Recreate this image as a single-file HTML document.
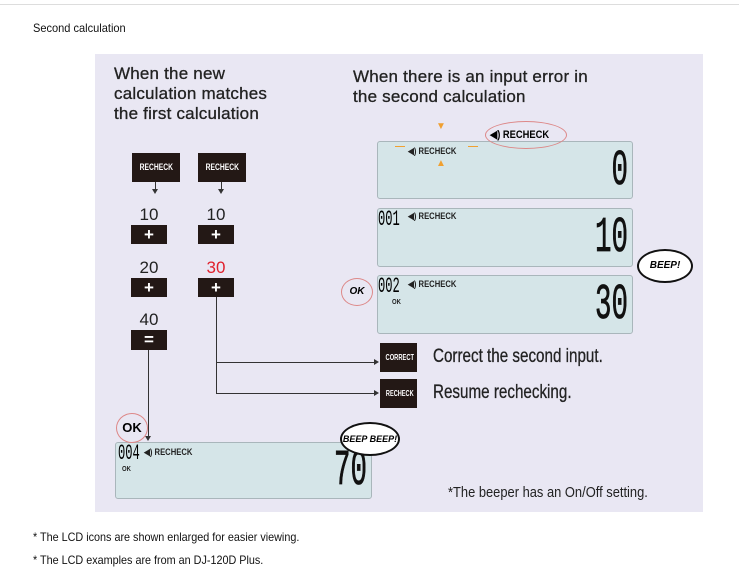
<!DOCTYPE html>
<html><head><meta charset="utf-8"><style>
body{margin:0;width:739px;height:584px;background:#fff;font-family:"Liberation Sans",sans-serif;position:relative;overflow:hidden}
.a{position:absolute}
.panel{left:95px;top:54px;width:608px;height:458px;background:#e9e7f3}
.h{font-size:17px;color:#222;line-height:20px;letter-spacing:0.2px;-webkit-text-stroke:0.3px #222}
.key{background:#231815;color:#fff;text-align:center;font-weight:bold;overflow:hidden;white-space:nowrap}
.rk{font-size:9px;line-height:29px;text-decoration:underline}
.rk span,.key span{display:inline-block;transform:scaleX(.75)}
.num{font-size:17px;color:#222;text-align:center;width:36px}
.lcd{background:#d5e5e8;border:1px solid #a9b6bb;border-radius:3px}
.dig{font-family:"Liberation Mono",monospace;font-size:50px;color:#111;transform:scaleX(.55);transform-origin:right top;line-height:50px;-webkit-text-stroke:0.8px #111}
.sm{font-size:9px;font-weight:bold;color:#222;transform:scaleX(.85);transform-origin:left top;white-space:nowrap}
.ln{background:#333}
.arr{width:0;height:0;border-top:3px solid transparent;border-bottom:3px solid transparent;border-left:5px solid #333}
.arrd{width:0;height:0;border-left:3px solid transparent;border-right:3px solid transparent;border-top:5px solid #333}
.txt{font-size:19px;color:#222;transform:scaleX(.8);transform-origin:left top;white-space:nowrap;-webkit-text-stroke:0.3px #222}
.sp{color:#f0a030;font-size:10px;font-weight:bold}
</style></head><body>
<div class="a" style="left:0;top:4px;width:739px;height:1px;background:#ddd"></div>
<div class="a" style="left:33px;top:21px;font-size:12px;color:#111;transform:scaleX(.92);transform-origin:left top">Second calculation</div>
<div class="a panel"></div>
<div class="a h" style="left:114px;top:64px">When the new<br>calculation matches<br>the first calculation</div>
<div class="a h" style="left:353px;top:67px">When there is an input error in<br>the second calculation</div>

<div class="a key rk" style="left:132px;top:153px;width:48px;height:29px"><span>RECHECK</span></div>
<div class="a key rk" style="left:198px;top:153px;width:48px;height:29px"><span>RECHECK</span></div>
<div class="a ln" style="left:155px;top:182px;width:1px;height:8px"></div>
<div class="a arrd" style="left:152px;top:189px"></div>
<div class="a ln" style="left:221px;top:182px;width:1px;height:8px"></div>
<div class="a arrd" style="left:218px;top:189px"></div>
<div class="a num" style="left:131px;top:205px">10</div>
<div class="a num" style="left:198px;top:205px">10</div>
<div class="a key" style="left:131px;top:225px;width:36px;height:19px;font-size:17px;line-height:19px">+</div>
<div class="a key" style="left:198px;top:225px;width:36px;height:19px;font-size:17px;line-height:19px">+</div>
<div class="a num" style="left:131px;top:258px">20</div>
<div class="a num" style="left:198px;top:258px;color:#e0202c">30</div>
<div class="a key" style="left:131px;top:278px;width:36px;height:19px;font-size:17px;line-height:19px">+</div>
<div class="a key" style="left:198px;top:278px;width:36px;height:19px;font-size:17px;line-height:19px">+</div>
<div class="a num" style="left:131px;top:310px">40</div>
<div class="a key" style="left:131px;top:330px;width:36px;height:20px;font-size:17px;line-height:20px">=</div>

<div class="a ln" style="left:148px;top:350px;width:1px;height:86px"></div>
<div class="a arrd" style="left:145px;top:436px"></div>
<div class="a ln" style="left:216px;top:297px;width:1px;height:97px"></div>
<div class="a ln" style="left:216px;top:362px;width:158px;height:1px"></div>
<div class="a arr" style="left:374px;top:359px"></div>
<div class="a ln" style="left:216px;top:393px;width:158px;height:1px"></div>
<div class="a arr" style="left:374px;top:390px"></div>

<div class="a key" style="left:380px;top:343px;width:37px;height:29px;font-size:8px;line-height:29px"><span style="transform:scaleX(.72)">CORRECT</span></div>
<div class="a txt" style="left:433px;top:346px">Correct the second input.</div>
<div class="a key rk" style="left:380px;top:379px;width:37px;height:29px;font-size:8px"><span style="transform:scaleX(.7)">RECHECK</span></div>
<div class="a txt" style="left:433px;top:382px">Resume rechecking.</div>

<div class="a lcd" style="left:377px;top:141px;width:254px;height:56px"></div>
<div class="a sm" style="left:408px;top:146px">◀) RECHECK</div>
<div class="a sp" style="left:436px;top:121px">▼</div>
<div class="a sp" style="left:436px;top:158px">▲</div>
<div class="a sp" style="left:395px;top:141px">—</div>
<div class="a sp" style="left:468px;top:141px">—</div>
<div class="a" style="left:485px;top:121px;width:80px;height:26px;border:1px solid #d88;border-radius:50%"></div>
<div class="a" style="left:490px;top:128px;font-size:11px;font-weight:bold;transform:scaleX(.85);transform-origin:left top">◀) RECHECK</div>
<div class="a dig" style="right:111px;top:147px">0</div>

<div class="a lcd" style="left:377px;top:208px;width:254px;height:57px"></div>
<div class="a" style="left:378px;top:207px;font-family:'Liberation Mono',monospace;font-size:22px;transform:scaleX(.55);transform-origin:left top">001</div>
<div class="a sm" style="left:408px;top:211px">◀) RECHECK</div>
<div class="a dig" style="right:111px;top:214px">10</div>

<div class="a lcd" style="left:377px;top:275px;width:254px;height:57px"></div>
<div class="a" style="left:378px;top:274px;font-family:'Liberation Mono',monospace;font-size:22px;transform:scaleX(.55);transform-origin:left top">002</div>
<div class="a sm" style="left:408px;top:279px">◀) RECHECK</div>
<div class="a sm" style="left:392px;top:299px;font-size:7px">OK</div>
<div class="a dig" style="right:111px;top:281px">30</div>
<div class="a" style="left:341px;top:278px;width:30px;height:26px;border:1px solid #d88;border-radius:50%;font-size:10px;font-weight:bold;font-style:italic;text-align:center;line-height:26px">OK</div>
<div class="a" style="left:637px;top:249px;width:52px;height:30px;border:2px solid #111;border-radius:50%;background:#fff;font-size:10px;font-weight:bold;font-style:italic;text-align:center;line-height:30px">BEEP!</div>

<div class="a lcd" style="left:115px;top:442px;width:255px;height:55px"></div>
<div class="a" style="left:116px;top:413px;width:30px;height:28px;border:1px solid #d88;border-radius:50%;font-size:13px;font-weight:bold;text-align:center;line-height:28px">OK</div>
<div class="a" style="left:118px;top:441px;font-family:'Liberation Mono',monospace;font-size:22px;transform:scaleX(.55);transform-origin:left top">004</div>
<div class="a sm" style="left:144px;top:447px">◀) RECHECK</div>
<div class="a sm" style="left:122px;top:466px;font-size:7px">OK</div>
<div class="a dig" style="right:372px;top:447px">70</div>
<div class="a" style="left:340px;top:422px;width:56px;height:30px;border:2px solid #111;border-radius:50%;background:#fff;font-size:9px;font-weight:bold;font-style:italic;text-align:center;line-height:30px">BEEP BEEP!</div>
<div class="a" style="left:448px;top:484px;font-size:15px;color:#222;transform:scaleX(.86);transform-origin:left top;white-space:nowrap">*The beeper has an On/Off setting.</div>

<div class="a" style="left:33px;top:530px;font-size:12px;color:#111;transform:scaleX(.9);transform-origin:left top;white-space:nowrap">* The LCD icons are shown enlarged for easier viewing.</div>
<div class="a" style="left:33px;top:553px;font-size:12px;color:#111;transform:scaleX(.9);transform-origin:left top;white-space:nowrap">* The LCD examples are from an DJ-120D Plus.</div>
</body></html>
